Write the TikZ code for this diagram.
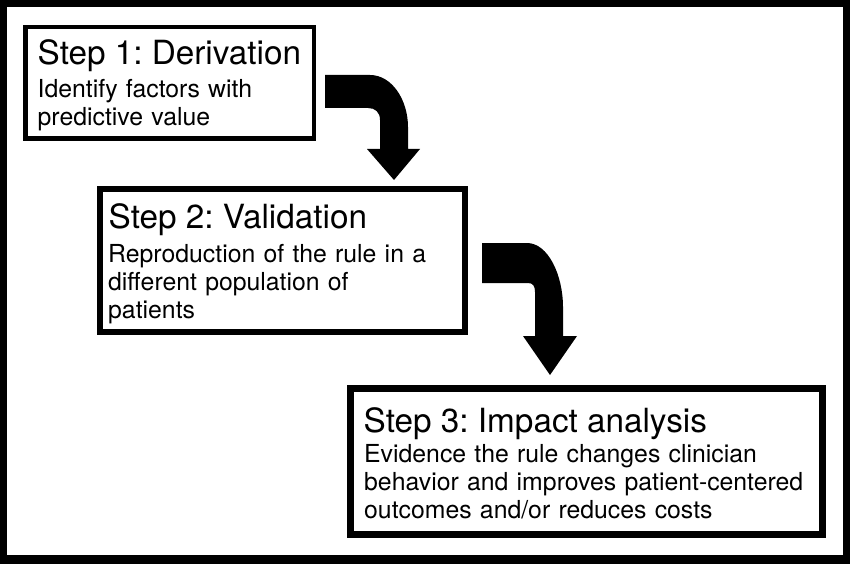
\documentclass[tikz,border=0pt]{standalone}
\usepackage{fontspec}
\setmainfont{TeX Gyre Heros}
\frenchspacing
\begin{document}
\begin{tikzpicture}[x=1pt,y=-1pt,
  stepbox/.style={draw=black, fill=white, rectangle, inner sep=0pt},
  steptitle/.style={anchor=base west, inner sep=0pt, font=\fontsize{33.3}{38}\selectfont},
  stepbody/.style={anchor=base west, inner sep=0pt, align=left, text width=500pt, font=\fontsize{24.8}{28}\selectfont},
  bigarrow/.style={fill=black}]
\useasboundingbox (0,0) rectangle (850,564);
% outer frame
\fill[black] (0,0) rectangle (850,564);
\fill[white] (7,7) rectangle (843,555);
% boxes
\node[stepbox, line width=4.5pt, minimum width=288.5pt, minimum height=111.5pt] (box1) at (169.5,83) {};
\node[stepbox, line width=6pt, minimum width=365pt, minimum height=143pt] (box2) at (282.5,260.5) {};
\node[stepbox, line width=7pt, minimum width=472pt, minimum height=146pt] (box3) at (586.5,461.5) {};
% texts
\node[steptitle] (t1) at (37.5,65) {Step 1: Derivation};
\node[stepbody] (d1) at (37.5,98) {Identify factors with\\predictive value};
\node[steptitle] (t2) at (108.5,228) {Step 2: Validation};
\node[stepbody] (d2) at (108,262) {Reproduction of the rule in a\\different population of\\patients};
\node[steptitle] (t3) at (363.5,432) {Step 3: Impact analysis};
\node[stepbody] (d3) at (364,462) {Evidence the rule changes clinician\\behavior and improves patient-centered\\outcomes and/or reduces costs};
% arrows
\fill[bigarrow] (325,75) -- (370,75) .. controls (392,75) and (408,100) .. (408,127) -- (408,149) -- (420,149) -- (394,180) -- (367,149) -- (380,149) -- (380,120) .. controls (380,112) and (375,108) .. (368,108) -- (325,108) -- cycle;
\fill[bigarrow] (482,243) -- (527,243) .. controls (548,243) and (563,275) .. (563,307) -- (563,336) -- (577,336) -- (550,375) -- (523,336) -- (535,336) -- (535,292) .. controls (535,286) and (533,283) .. (528,283) -- (482,283) -- cycle;
\end{tikzpicture}
\end{document}
